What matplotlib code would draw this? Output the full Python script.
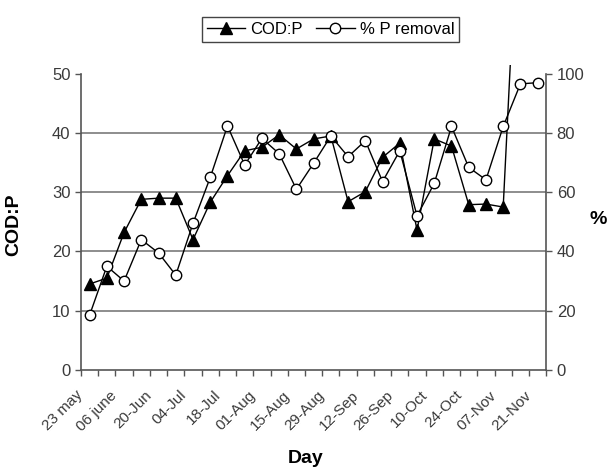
import numpy as np
import matplotlib.pyplot as plt
from matplotlib.patches import Rectangle
from matplotlib.transforms import ScaledTranslation

plt.rcParams['font.family'] = ['Liberation Sans', 'DejaVu Sans']

# weekly categories, labelled every second week
day_labels = ["23 may", "06 june", "20-Jun", "04-Jul", "18-Jul", "01-Aug", "15-Aug",
              "29-Aug", "12-Sep", "26-Sep", "10-Oct", "24-Oct", "07-Nov", "21-Nov"]

cod_p = [14.5, 15.5, 23.2, 28.8, 29.0, 29.0, 22.0, 28.3, 32.8, 37.0, 37.6, 39.7, 37.3, 39.0,
         39.5, 28.4, 30.1, 35.9, 38.3, 23.6, 39.0, 37.8, 27.9, 28.0, 27.5, 86.0, np.nan]

p_removal = [18.5, 35.0, 30.0, 44.0, 39.5, 32.0, 49.5, 65.0, 82.4, 69.2, 78.2, 73.0, 61.0, 69.8,
             79.0, 72.0, 77.4, 63.6, 74.0, 52.0, 63.0, 82.2, 68.4, 64.2, 82.2, 96.6, 97.0]

n = len(cod_p)
x = np.arange(n)

fig = plt.figure(figsize=(6.09, 4.70), dpi=100)
ax = fig.add_axes([0.133, 0.213, 0.764, 0.630])
ax2 = ax.twinx()

axis_col = '#555555'
text_col = '#3a3a3a'

# COD:P on left axis
l1, = ax.plot(x, cod_p, color='black', lw=1.0, marker='^', ms=8,
              mfc='black', mec='black', label='COD:P')
l1.set_clip_path(Rectangle((0, 0), 1, 1.03, transform=ax.transAxes))

# % P removal on right axis
l2, = ax2.plot(x, p_removal, color='black', lw=1.0, marker='o', ms=7.5,
               mfc='white', mec='black', mew=1.0, label='% P removal')

ax.set_xlim(-0.5, n - 0.5)
ax.set_ylim(0, 50)
ax2.set_ylim(0, 100)
ax.set_yticks(np.arange(0, 51, 10))
ax2.set_yticks(np.arange(0, 101, 20))

# tick marks at category boundaries, labels at every other category
ax.set_xticks(np.arange(n + 1) - 0.5)
ax.set_xticklabels([])
ax.set_xticks(x[::2], day_labels, minor=True)
ax.tick_params(axis='x', which='minor', length=0, pad=6, labelsize=11, labelcolor=text_col)
shift = ScaledTranslation(-0.14, -0.10, fig.dpi_scale_trans)
for lab in ax.get_xticklabels(minor=True):
    lab.set_rotation(45)
    lab.set_ha('right')
    lab.set_rotation_mode('anchor')
    lab.set_transform(lab.get_transform() + shift)

ax.tick_params(axis='both', which='major', direction='out', length=4, width=1,
               color=axis_col, labelsize=12, labelcolor=text_col)
ax2.tick_params(axis='y', direction='out', length=4, width=1,
                color=axis_col, labelsize=12, labelcolor=text_col)

ax.grid(axis='y', color='#7a7a7a', lw=1.2)
gl = ax.get_ygridlines()
gl[0].set_visible(False)
gl[-1].set_visible(False)
ax.set_axisbelow(True)

for a in (ax, ax2):
    a.spines['top'].set_visible(False)
    for s in a.spines.values():
        s.set_color(axis_col)
        s.set_linewidth(1.2)
ax.spines['right'].set_visible(False)
ax2.spines['left'].set_visible(False)
ax2.spines['bottom'].set_visible(False)

ax.set_ylabel('COD:P', fontsize=14, fontweight='bold')
ax.yaxis.set_label_coords(-0.127, 0.49)
ax2.set_ylabel('%', fontsize=14, fontweight='bold', rotation=0, va='center')
ax2.yaxis.set_label_coords(1.112, 0.507)
ax.set_xlabel('Day', fontsize=14, fontweight='bold')
ax.xaxis.set_label_coords(0.482, -0.27)

fig.legend(handles=[l1, l2], loc='center', bbox_to_anchor=(0.543, 0.938), ncol=2,
           fontsize=12, frameon=True, fancybox=False, edgecolor='#444444',
           framealpha=1, handlelength=2.3, handletextpad=0.3, columnspacing=0.8,
           borderpad=0.3, borderaxespad=0)

fig.savefig('out.png', dpi=100)
